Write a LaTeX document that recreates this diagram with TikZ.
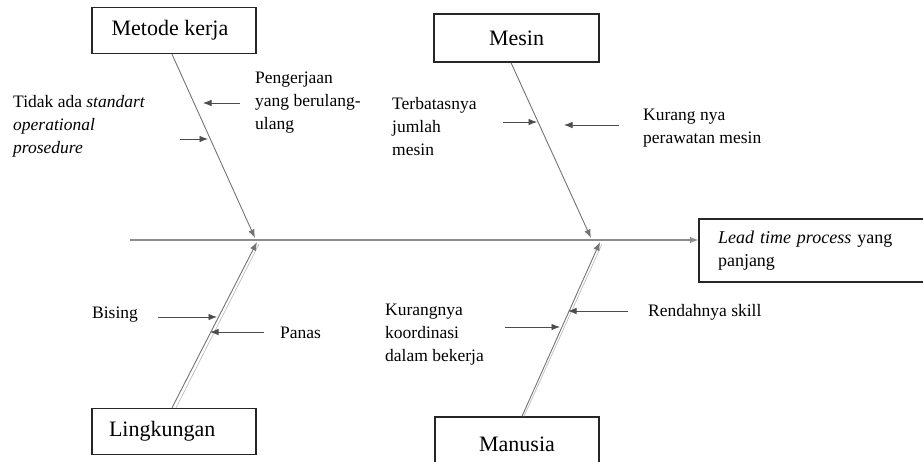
\documentclass[tikz,border=0pt]{standalone}
\usepackage{fontspec}
\setmainfont{Liberation Serif}
\usetikzlibrary{arrows.meta,calc}
\begin{document}
\begin{tikzpicture}[x=1pt,y=-1pt,
  catbox/.style={draw=black!85,line width=1.4pt,minimum width=164pt,minimum height=46pt,
    inner sep=0pt,font=\fontsize{22}{26}\selectfont},
  note/.style={anchor=west,align=left,inner sep=0pt,font=\fontsize{17.5}{23}\selectfont},
  spine/.style={draw=black!45,line width=1.1pt},
  bone/.style={draw=black!55,line width=0.9pt,-{Latex[length=8.5pt,width=6.5pt]}},
  twin/.style={draw=black!25,line width=0.7pt},
  cause/.style={draw=black!70,line width=0.8pt,-{Latex[length=8.5pt,width=6.5pt]}}]
\useasboundingbox (0,0) rectangle (923,461);
\clip (0,0) rectangle (923,461);

% category boxes
\node[catbox] (mk) at (174,30.5) {\hspace*{-8pt}Metode kerja};
\node[catbox,minimum width=165pt,minimum height=48pt] (ms) at (516.5,38) {Mesin};
\node[catbox,align=left,text width=130pt] (lk) at (174,431.5) {Lingkungan};
\node[catbox,minimum width=164pt,minimum height=60pt] (mn) at (517,447) {\raisebox{5pt}{Manusia}};
\node[draw=black!85,line width=1.4pt,minimum width=226pt,minimum height=63pt,
  text width=188pt,align=left,font=\fontsize{18}{23.5}\selectfont,inner sep=0pt]
  (ef) at (812,250.5) {\textit{Lead time process} yang\\panjang};

% spine and its junctions
\coordinate (tail) at (130,240);
\coordinate (j1a) at (255,238);
\coordinate (j1b) at (257,242);
\coordinate (j2a) at (591,238);
\coordinate (j2b) at (600,242);
\draw[spine,-{Latex[length=8.5pt,width=6.5pt]}] (tail) -- (tail -| ef.west);

% main bones
\draw[bone] ($(mk.south)+(-2,0)$) -- (j1a);
\draw[bone] ($(ms.south)+(-5.5,0)$) -- (j2a);
\draw[twin] ($(lk.north)+(2,0)$) -- ($(j1b)+(2,2)$);
\draw[bone] ($(lk.north)+(-2,0)$) -- (j1b);
\draw[twin] ($(mn.north)+(7,0)$) -- ($(j2b)+(2,2)$);
\draw[bone] ($(mn.north)+(5,0)$) -- (j2b);

% causes: Metode kerja
\node[note] (c1) at (255,103) {Pengerjaan\\yang berulang-\\ulang};
\coordinate (c1s) at (240,103); \coordinate (c1e) at (203,103);
\draw[cause] (c1s) -- (c1e);
\node[note] (c2) at (13,126) {Tidak ada \textit{standart}\\\textit{operational}\\\textit{prosedure}};
\coordinate (c2s) at (180,139); \coordinate (c2e) at (208,139);
\draw[cause] (c2s) -- (c2e);

% causes: Mesin
\node[note] (c3) at (392,127) {Terbatasnya\\jumlah\\mesin};
\coordinate (c3s) at (503,122); \coordinate (c3e) at (537,122);
\draw[cause] (c3s) -- (c3e);
\node[note] (c4) at (643,128.5) {Kurang nya\\perawatan mesin};
\coordinate (c4s) at (619,125); \coordinate (c4e) at (564,125);
\draw[cause] (c4s) -- (c4e);

% causes: Lingkungan
\node[note] (c5) at (92,315) {Bising};
\coordinate (c5s) at (158,317); \coordinate (c5e) at (217,317);
\draw[cause] (c5s) -- (c5e);
\node[note] (c6) at (280,333) {Panas};
\coordinate (c6s) at (264,332); \coordinate (c6e) at (210,332);
\draw[cause] (c6s) -- (c6e);

% causes: Manusia
\node[note] (c7) at (385,335) {Kurangnya\\koordinasi\\dalam bekerja};
\coordinate (c7s) at (505,327); \coordinate (c7e) at (560,327);
\draw[cause] (c7s) -- (c7e);
\node[note] (c8) at (648,312) {Rendahnya skill};
\coordinate (c8s) at (628,311); \coordinate (c8e) at (568,311);
\draw[cause] (c8s) -- (c8e);
\end{tikzpicture}
\end{document}
